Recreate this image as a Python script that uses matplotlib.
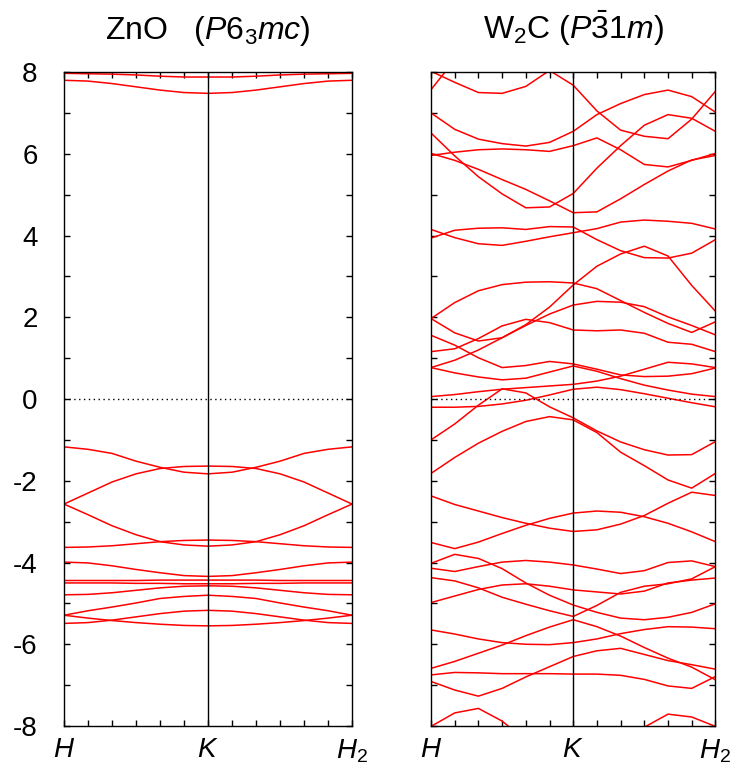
import numpy as np
import matplotlib
matplotlib.use('Agg')
import matplotlib.pyplot as plt
from matplotlib.ticker import MultipleLocator

plt.rcParams['font.family'] = 'Liberation Sans'
plt.rcParams['mathtext.fontset'] = 'custom'
plt.rcParams['mathtext.rm'] = 'Liberation Sans'
plt.rcParams['mathtext.it'] = 'Liberation Sans:italic'
plt.rcParams['axes.unicode_minus'] = False

# k-path samples: H -> K -> H2, 6 steps per segment
kpath = np.linspace(0, 2, 13)
kticks = [0, 1, 2]
klabels = [r'$H$', r'$K$', r'$H_{\mathrm{2}}$']

# ZnO bands (eV)
zno_conduction = [
    [7.97, 7.96, 7.95, 7.93, 7.90, 7.88, 7.88, 7.88, 7.90, 7.93, 7.95, 7.96, 7.97],
    [7.80, 7.78, 7.72, 7.64, 7.56, 7.50, 7.48, 7.50, 7.56, 7.64, 7.72, 7.78, 7.80],
]
zno_valence = [
    [-1.17, -1.23, -1.33, -1.52, -1.67, -1.79, -1.83, -1.79, -1.67, -1.52, -1.33, -1.23, -1.17],
    [-2.57, -2.30, -2.03, -1.83, -1.70, -1.65, -1.64, -1.65, -1.70, -1.83, -2.03, -2.30, -2.57],
    [-2.57, -2.83, -3.10, -3.32, -3.49, -3.57, -3.60, -3.57, -3.49, -3.32, -3.10, -2.83, -2.57],
    [-3.63, -3.62, -3.59, -3.54, -3.49, -3.46, -3.45, -3.46, -3.49, -3.54, -3.59, -3.62, -3.63],
    [-3.99, -4.01, -4.08, -4.17, -4.25, -4.32, -4.34, -4.32, -4.25, -4.17, -4.08, -4.01, -3.99],
    [-4.44, -4.44, -4.44, -4.44, -4.43, -4.43, -4.43, -4.43, -4.43, -4.44, -4.44, -4.44, -4.44],
    [-4.50, -4.50, -4.50, -4.51, -4.51, -4.52, -4.52, -4.52, -4.51, -4.51, -4.50, -4.50, -4.50],
    [-4.79, -4.78, -4.74, -4.68, -4.62, -4.58, -4.57, -4.58, -4.62, -4.68, -4.74, -4.78, -4.79],
    [-5.29, -5.18, -5.09, -4.99, -4.88, -4.83, -4.80, -4.83, -4.88, -4.99, -5.09, -5.18, -5.29],
    [-5.29, -5.36, -5.42, -5.47, -5.51, -5.54, -5.55, -5.54, -5.51, -5.47, -5.42, -5.36, -5.29],
    [-5.49, -5.47, -5.41, -5.33, -5.25, -5.19, -5.17, -5.19, -5.25, -5.33, -5.41, -5.47, -5.49],
]

# W2C bands (eV)
nan = np.nan
w2c_upper = [
    [7.57, 8.30, nan, nan, nan, nan, nan, nan, nan, nan, nan, nan, nan],
    [8.02, 7.75, 7.50, 7.48, 7.65, 8.04, 7.68, 7.05, 6.58, 6.43, 6.37, 6.85, 7.53],
    [7.00, 6.60, 6.36, 6.25, 6.19, 6.28, 6.55, 6.96, 7.23, 7.45, 7.56, 7.40, 7.02],
    [6.51, 5.95, 5.44, 5.02, 4.68, 4.70, 5.03, 5.65, 6.20, 6.70, 6.96, 6.87, 6.55],
    [6.01, 5.84, 5.62, 5.37, 5.13, 4.85, 4.56, 4.58, 4.90, 5.25, 5.58, 5.85, 5.96],
    [5.96, 6.04, 6.10, 6.12, 6.10, 6.06, 6.20, 6.39, 6.10, 5.74, 5.68, 5.84, 6.01],
    [4.15, 3.95, 3.80, 3.76, 3.86, 3.97, 4.07, 4.17, 4.33, 4.38, 4.35, 4.30, 4.16],
    [3.94, 4.13, 4.18, 4.19, 4.15, 4.22, 4.21, 3.90, 3.63, 3.46, 3.45, 3.57, 3.90],
]
w2c_middle = [
    [1.97, 2.36, 2.65, 2.80, 2.86, 2.87, 2.84, 2.70, 2.41, 2.12, 1.85, 1.63, 1.89],
    [1.97, 1.62, 1.42, 1.50, 1.82, 2.25, 2.79, 3.25, 3.55, 3.74, 3.50, 2.78, 2.15],
    [0.77, 0.95, 1.20, 1.50, 1.80, 2.08, 2.30, 2.39, 2.37, 2.26, 2.01, 1.80, 1.57],
    [1.56, 1.32, 1.01, 0.77, 0.82, 0.92, 0.86, 0.73, 0.59, 0.55, 0.56, 0.62, 0.76],
    [1.16, 1.23, 1.48, 1.79, 1.95, 1.87, 1.69, 1.67, 1.69, 1.61, 1.39, 1.34, 1.16],
    [0.77, 0.64, 0.54, 0.47, 0.51, 0.66, 0.81, 0.68, 0.50, 0.34, 0.22, 0.12, 0.06],
    [0.06, 0.11, 0.18, 0.24, 0.28, 0.32, 0.36, 0.44, 0.56, 0.73, 0.90, 0.86, 0.77],
    [-0.20, -0.20, -0.18, -0.12, -0.03, 0.10, 0.24, 0.29, 0.23, 0.13, 0.02, -0.09, -0.19],
    [-1.00, -0.61, -0.15, 0.25, 0.15, -0.19, -0.46, -0.78, -1.05, -1.24, -1.37, -1.36, -1.04],
    [-1.82, -1.43, -1.08, -0.79, -0.55, -0.43, -0.51, -0.82, -1.30, -1.63, -1.98, -2.18, -1.82],
]
w2c_lower = [
    [-2.37, -2.58, -2.74, -2.90, -3.04, -3.16, -3.24, -3.20, -3.06, -2.85, -2.55, -2.28, -2.36],
    [-3.51, -3.66, -3.50, -3.29, -3.09, -2.92, -2.79, -2.74, -2.77, -2.88, -3.04, -3.25, -3.49],
    [-4.02, -3.80, -3.90, -4.15, -4.50, -4.80, -5.04, -5.22, -5.36, -5.40, -5.34, -5.22, -5.01],
    [-4.14, -4.22, -4.10, -3.99, -3.95, -3.99, -4.06, -4.16, -4.27, -4.20, -4.00, -3.96, -4.10],
    [-4.37, -4.45, -4.62, -4.85, -5.02, -5.18, -5.32, -5.05, -4.73, -4.58, -4.52, -4.40, -4.10],
    [-4.98, -4.82, -4.66, -4.55, -4.52, -4.58, -4.67, -4.72, -4.77, -4.70, -4.50, -4.43, -4.38],
    [-5.65, -5.75, -5.87, -5.96, -6.00, -6.01, -5.96, -5.87, -5.74, -5.64, -5.57, -5.58, -5.62],
    [-6.59, -6.42, -6.22, -6.02, -5.79, -5.58, -5.40, -5.57, -5.80, -6.08, -6.34, -6.56, -6.87],
    [-6.91, -7.12, -7.27, -7.08, -6.80, -6.55, -6.30, -6.16, -6.10, -6.25, -6.40, -6.50, -6.61],
    [-6.75, -6.69, -6.70, -6.72, -6.72, -6.72, -6.73, -6.73, -6.76, -6.86, -7.02, -7.08, -6.79],
    [-8.01, -7.68, -7.57, -7.88, -8.35, -8.70, -8.90, -8.70, -8.40, -8.03, -7.71, -7.78, -8.01],
]

titles = [r'ZnO   ($P$6$_{\mathrm{3}}$$mc$)', r'W$_{\mathrm{2}}$C ($P\bar{\mathrm{3}}$1$m$)']

fig = plt.figure(figsize=(7.33, 7.72), dpi=100)
ax1 = fig.add_axes([0.0873, 0.0596, 0.393, 0.847])
ax2 = fig.add_axes([0.588, 0.0596, 0.388, 0.847])

panels = [
    (ax1, zno_conduction + zno_valence, titles[0]),
    (ax2, w2c_upper + w2c_middle + w2c_lower, titles[1]),
]

for ax, bands, title in panels:
    for b in bands:
        ax.plot(kpath, b, color='#ff0000', lw=1.1)
    ax.axvline(1, color='black', lw=1.0)
    ax.axhline(0, color='black', lw=1.0, ls=(0, (1, 2.5)))
    ax.set_xlim(0, 2)
    ax.set_ylim(-8, 8)
    ax.set_xticks(kticks)
    ax.set_xticklabels(klabels, fontsize=24)
    ax.xaxis.set_minor_locator(MultipleLocator(1 / 6))
    ax.yaxis.set_major_locator(MultipleLocator(2))
    ax.yaxis.set_minor_locator(MultipleLocator(1))
    ax.tick_params(which='both', direction='in', top=True, right=True,
                   length=4, width=1, labelsize=20)
    ax.tick_params(axis='y', pad=19)
    ax.tick_params(axis='x', pad=8)
    for s in ax.spines.values():
        s.set_linewidth(1.0)
    ax.set_title(title, fontsize=23, pad=24)

ax2.tick_params(axis='y', labelleft=False)

fig.savefig('out.png', dpi=100)
